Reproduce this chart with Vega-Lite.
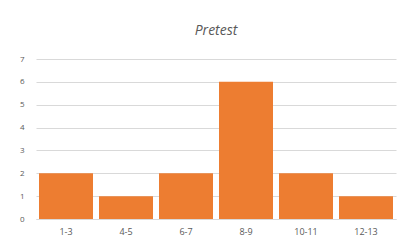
{
  "$schema": "https://vega.github.io/schema/vega-lite/v6.json",
  "autosize": "none",
  "width": 360,
  "height": 160,
  "padding": {"left": 36, "top": 59, "right": 3, "bottom": 27},
  "background": "white",
  "title": {
    "text": "Pretest",
    "font": "Open Sans",
    "fontSize": 14,
    "fontStyle": "italic",
    "fontWeight": "normal",
    "color": "#595959",
    "anchor": "middle",
    "offset": 17
  },
  "data": {
    "values": [
      {"range": "1-3", "count": 2},
      {"range": "4-5", "count": 1},
      {"range": "6-7", "count": 2},
      {"range": "8-9", "count": 6},
      {"range": "10-11", "count": 2},
      {"range": "12-13", "count": 1}
    ]
  },
  "mark": {"type": "bar", "color": "#ED7D31"},
  "encoding": {
    "x": {
      "field": "range",
      "type": "nominal",
      "sort": null,
      "scale": {"paddingInner": 0.1, "paddingOuter": 0.05},
      "axis": {
        "title": null,
        "labelAngle": 0,
        "ticks": false,
        "domainColor": "#d9d9d9",
        "labelColor": "#595959",
        "labelFont": "Open Sans",
        "labelFontSize": 9,
        "labelPadding": 8
      }
    },
    "y": {
      "field": "count",
      "type": "quantitative",
      "scale": {"domain": [0, 7]},
      "axis": {
        "title": null,
        "values": [0, 1, 2, 3, 4, 5, 6, 7],
        "ticks": false,
        "domain": false,
        "gridColor": "#d9d9d9",
        "labelColor": "#595959",
        "labelFont": "Open Sans",
        "labelFontSize": 8,
        "labelPadding": 12
      }
    }
  },
  "config": {"view": {"stroke": null}}
}
